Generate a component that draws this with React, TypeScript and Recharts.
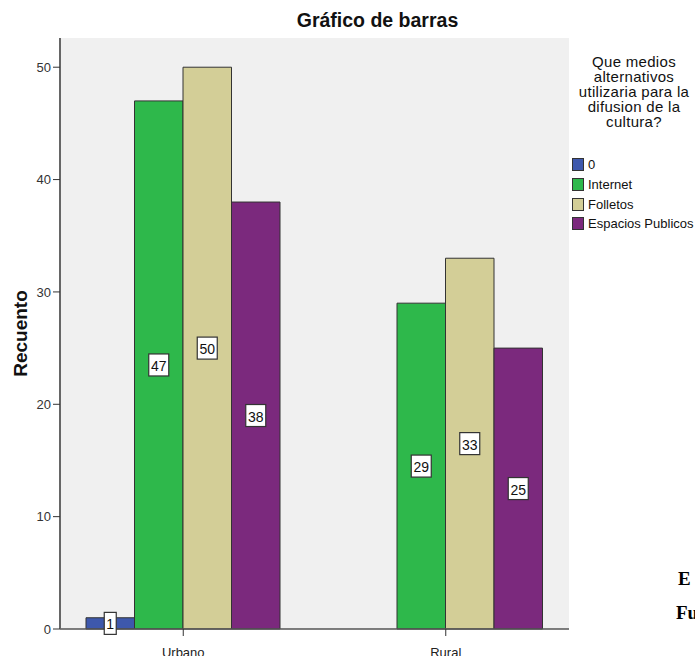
import React from 'react';
import { BarChart, Bar, XAxis, YAxis, CartesianGrid, Legend, LabelList } from 'recharts';

const categories = ['Urbano', 'Rural'];
const seriesNames = ['0', 'Internet', 'Folletos', 'Espacios Publicos'];
const serieCero = [1, 0];
const serieInternet = [47, 29];
const serieFolletos = [50, 33];
const serieEspacios = [38, 25];
const yTicks = [0, 10, 20, 30, 40, 50];
const legendTitle = ['Que medios', 'alternativos', 'utilizaria para la', 'difusion de la', 'cultura?'];
const colors = ['#3e58ac', '#2eb84b', '#d3ce97', '#7b297d'];
const chartTitle = 'Gráfico de barras';
const yLabel = 'Recuento';

const keys = ['s0', 's1', 's2', 's3'];
const data = categories.map((c, i) => ({
  name: c,
  s0: serieCero[i],
  s1: serieInternet[i],
  s2: serieFolletos[i],
  s3: serieEspacios[i],
}));

const FONT = '"Liberation Sans", Arial, sans-serif';

const renderValueLabel = (props: any) => {
  const { x, y, width, height, value } = props;
  if (!value) return null;
  const cx = Number(x) + Number(width) / 2;
  const cy = Number(y) + Number(height) / 2;
  const w = String(value).length > 1 ? 20 : 12;
  return (
    <g>
      <rect x={cx - w / 2} y={cy - 11} width={w} height={22} fill="#ffffff" stroke="#333333" strokeWidth={1.2} />
      <text x={cx} y={cy + 1} textAnchor="middle" dominantBaseline="central" fontSize={14} fill="#111111" fontFamily={FONT}>
        {value}
      </text>
    </g>
  );
};

const renderLegend = () => (
  <div style={{ fontFamily: FONT, color: '#111111' }}>
    <div style={{ textAlign: 'center', fontSize: 15, lineHeight: '15px', letterSpacing: 0.3 }}>
      {legendTitle.map((l) => (
        <div key={l}>{l}</div>
      ))}
    </div>
    <div style={{ marginTop: 26, paddingLeft: 4 }}>
      {seriesNames.map((n, i) => (
        <div key={n} style={{ display: 'flex', alignItems: 'center', height: 19.7, fontSize: 13, whiteSpace: 'nowrap' }}>
          <span
            style={{
              display: 'inline-block',
              width: 10,
              height: 11,
              background: colors[i],
              border: '1px solid #333333',
              marginRight: 4,
            }}
          />
          {n}
        </div>
      ))}
    </div>
  </div>
);

const renderYLabel = (props: any) => {
  const vb = props.viewBox || { x: 0, y: 38, width: 60, height: 591 };
  const cx = vb.x + 20;
  const cy = vb.y + vb.height / 2;
  return (
    <text
      x={cx}
      y={cy}
      transform={`rotate(-90 ${cx} ${cy})`}
      textAnchor="middle"
      dominantBaseline="central"
      fontSize={19}
      fontWeight="bold"
      fill="#111111"
      fontFamily={FONT}
    >
      {yLabel}
    </text>
  );
};

export default function App() {
  return (
    <div style={{ position: 'absolute', left: 0, top: 0, width: 695, height: 656, background: '#ffffff', overflow: 'hidden' }}>
      <div
        style={{
          position: 'absolute',
          left: 60,
          top: 10,
          width: 635,
          textAlign: 'center',
          fontFamily: FONT,
          fontWeight: 'bold',
          fontSize: 19.5,
          lineHeight: '20px',
          color: '#111111',
        }}
      >
        {chartTitle}
      </div>
      <div style={{ position: 'absolute', left: 0, top: 0 }}>
        <BarChart
          width={695}
          height={656}
          data={data}
          margin={{ top: 38, right: 126, bottom: 0, left: 0 }}
          barGap={0}
          barSize={48.5}
        >
          <CartesianGrid horizontal={false} vertical={false} fill="#f0f0f0" />
          <XAxis
            dataKey="name"
            height={27}
            padding={{ left: -8, right: -8 }}
            tickSize={7}
            tickMargin={12}
            axisLine={{ stroke: '#555555', strokeWidth: 1.5 }}
            tickLine={{ stroke: '#333333' }}
            tick={{ fontSize: 13, fill: '#222222', fontFamily: FONT }}
          />
          <XAxis
            xAxisId="top"
            orientation="top"
            dataKey="name"
            height={0}
            tick={false}
            tickLine={false}
            axisLine={{ stroke: '#666666', strokeWidth: 1.5 }}
          />
          <YAxis
            width={60}
            domain={[0, 52.6]}
            ticks={yTicks}
            interval={0}
            tickSize={7}
            tickMargin={2}
            axisLine={{ stroke: '#666666', strokeWidth: 2 }}
            tickLine={{ stroke: '#333333' }}
            tick={{ fontSize: 13, fill: '#333333', fontFamily: FONT }}
            label={renderYLabel}
          />
          <YAxis
            yAxisId="right"
            orientation="right"
            width={0}
            domain={[0, 52.6]}
            tick={false}
            tickLine={false}
            axisLine={{ stroke: '#666666', strokeWidth: 1.5 }}
          />
          <Legend
            content={renderLegend}
            layout="horizontal"
            verticalAlign="middle"
            align="center"
            wrapperStyle={{ position: 'absolute', left: 568, top: 54, width: 132, height: 190 }}
          />
          {keys.map((k, i) => (
            <Bar key={k} dataKey={k} name={seriesNames[i]} fill={colors[i]} stroke="#333333" strokeWidth={1} isAnimationActive={false}>
              <LabelList dataKey={k} content={renderValueLabel} />
            </Bar>
          ))}
        </BarChart>
      </div>
      <div
        style={{
          position: 'absolute',
          left: 678,
          top: 562,
          fontFamily: '"Liberation Serif", "Times New Roman", serif',
          fontWeight: 'bold',
          fontSize: 19,
          lineHeight: '34px',
          color: '#000000',
          whiteSpace: 'nowrap',
        }}
      >
        <div>E</div>
        <div style={{ marginLeft: -2 }}>Fu</div>
      </div>
    </div>
  );
}
